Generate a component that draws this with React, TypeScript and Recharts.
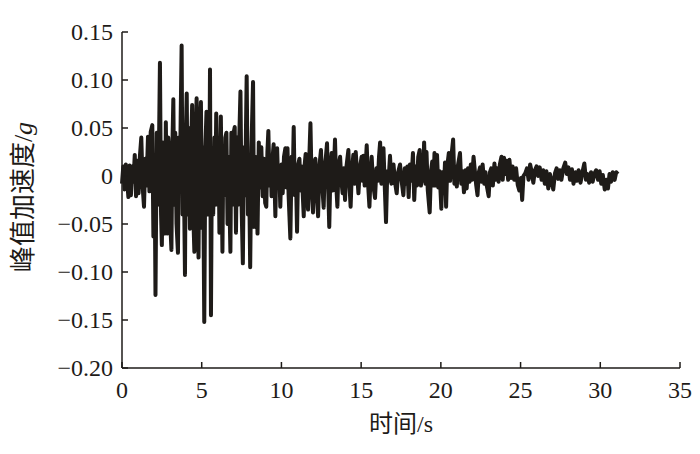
import { CartesianGrid, Line, LineChart, XAxis, YAxis } from "recharts";

// 时间 (s)
const timeS = [
	0.0, 0.08, 0.16, 0.24, 0.32, 0.4, 0.48, 0.56, 0.64, 0.72, 0.8, 0.88, 0.96, 1.04, 1.12, 1.21, 1.3, 1.38, 1.46, 1.54,
	1.63, 1.72, 1.8, 1.9, 1.97, 2.04, 2.1, 2.18, 2.26, 2.32, 2.38, 2.45, 2.5, 2.57, 2.64, 2.7, 2.75, 2.8, 2.85, 2.9,
	2.97, 3.03, 3.1, 3.16, 3.22, 3.28, 3.34, 3.42, 3.51, 3.57, 3.63, 3.68, 3.74, 3.8, 3.86, 3.95, 4.0, 4.06, 4.12, 4.18,
	4.26, 4.32, 4.4, 4.47, 4.54, 4.6, 4.68, 4.74, 4.8, 4.86, 4.95, 5.02, 5.08, 5.16, 5.23, 5.3, 5.36, 5.42, 5.47, 5.52,
	5.58, 5.64, 5.72, 5.8, 5.85, 5.91, 6.0, 6.06, 6.11, 6.2, 6.3, 6.36, 6.42, 6.48, 6.55, 6.62, 6.68, 6.74, 6.8, 6.86,
	6.93, 6.98, 7.07, 7.15, 7.22, 7.28, 7.34, 7.43, 7.5, 7.58, 7.65, 7.72, 7.82, 7.9, 7.96, 8.04, 8.12, 8.22, 8.28, 8.36,
	8.42, 8.5, 8.58, 8.66, 8.74, 8.82, 8.9, 8.98, 9.05, 9.12, 9.18, 9.26, 9.33, 9.38, 9.45, 9.51, 9.57, 9.62, 9.68, 9.73,
	9.8, 9.86, 9.93, 10.0, 10.08, 10.16, 10.25, 10.32, 10.38, 10.45, 10.56, 10.64, 10.7, 10.77, 10.84, 10.9, 10.98, 11.05, 11.13, 11.2,
	11.27, 11.34, 11.4, 11.46, 11.52, 11.6, 11.67, 11.74, 11.82, 11.9, 11.98, 12.05, 12.13, 12.2, 12.3, 12.38, 12.48, 12.56, 12.65, 12.72,
	12.79, 12.86, 12.93, 13.0, 13.08, 13.15, 13.22, 13.3, 13.36, 13.44, 13.51, 13.58, 13.68, 13.76, 13.84, 13.91, 13.99, 14.08, 14.2, 14.27,
	14.34, 14.42, 14.51, 14.58, 14.66, 14.74, 14.83, 14.92, 15.03, 15.08, 15.14, 15.22, 15.28, 15.35, 15.44, 15.52, 15.6, 15.66, 15.75, 15.87,
	15.96, 16.05, 16.12, 16.19, 16.27, 16.33, 16.4, 16.48, 16.56, 16.64, 16.72, 16.81, 16.9, 16.96, 17.03, 17.12, 17.23, 17.32, 17.44, 17.53,
	17.65, 17.74, 17.82, 17.9, 17.98, 18.06, 18.15, 18.25, 18.33, 18.42, 18.5, 18.58, 18.67, 18.75, 18.82, 18.88, 18.95, 19.03, 19.1, 19.18,
	19.3, 19.38, 19.46, 19.54, 19.6, 19.68, 19.76, 19.84, 19.92, 20.03, 20.1, 20.18, 20.26, 20.33, 20.4, 20.5, 20.58, 20.66, 20.77, 20.85,
	20.93, 21.0, 21.08, 21.2, 21.28, 21.36, 21.45, 21.54, 21.62, 21.7, 21.8, 21.88, 21.96, 22.05, 22.14, 22.22, 22.3, 22.38, 22.46, 22.54,
	22.62, 22.72, 22.8, 22.88, 23.0, 23.08, 23.16, 23.26, 23.36, 23.44, 23.52, 23.62, 23.7, 23.8, 23.88, 23.96, 24.04, 24.12, 24.22, 24.3,
	24.4, 24.5, 24.6, 24.72, 24.82, 24.92, 25.02, 25.1, 25.18, 25.3, 25.4, 25.5, 25.6, 25.7, 25.8, 25.9, 26.0, 26.1, 26.2, 26.32,
	26.42, 26.52, 26.62, 26.74, 26.84, 26.96, 27.05, 27.16, 27.26, 27.36, 27.46, 27.56, 27.68, 27.8, 27.9, 28.0, 28.1, 28.22, 28.32, 28.44,
	28.54, 28.64, 28.76, 28.88, 29.0, 29.1, 29.2, 29.3, 29.42, 29.52, 29.64, 29.74, 29.86, 29.96, 30.06, 30.16, 30.28, 30.38, 30.48, 30.58,
	30.68, 30.78, 30.9, 31.0, 31.1,
];

// 峰值加速度 (g)
const accelG = [
	-0.008, 0.01, -0.014, 0.012, -0.004, -0.022, 0.011, -0.02, 0.01, -0.006, 0.022, -0.021, 0.016, -0.018, 0.02, 0.04, -0.012, -0.032, 0.018, -0.01,
	0.041, -0.016, 0.046, 0.053, -0.063, 0.02, -0.124, 0.045, -0.03, 0.03, 0.118, -0.04, -0.072, 0.035, -0.035, -0.06, 0.056, -0.02, -0.06, 0.04,
	0.02, -0.05, -0.077, 0.03, 0.08, -0.03, 0.045, -0.05, -0.08, 0.04, -0.01, 0.06, 0.136, -0.04, 0.03, -0.103, 0.04, 0.086, -0.04, 0.05,
	-0.055, 0.02, 0.074, -0.04, -0.079, 0.03, 0.081, -0.03, -0.085, 0.04, 0.077, -0.054, 0.03, -0.152, 0.03, 0.067, -0.04, 0.05, -0.02, 0.111,
	-0.145, 0.02, -0.04, 0.04, -0.03, 0.065, -0.03, 0.03, -0.059, 0.062, -0.079, 0.03, -0.02, 0.04, 0.045, -0.05, 0.02, -0.03, -0.079, 0.045,
	-0.03, 0.043, 0.051, -0.059, 0.04, -0.03, 0.03, 0.088, -0.03, -0.091, 0.03, -0.02, 0.104, -0.04, 0.02, -0.095, 0.03, 0.098, -0.053, 0.02,
	0.01, -0.06, 0.035, -0.012, 0.03, -0.021, 0.018, -0.028, -0.032, 0.025, 0.047, -0.01, 0.015, -0.021, 0.02, 0.033, -0.01, -0.042, 0.015, 0.029,
	-0.01, 0.01, -0.032, 0.012, -0.018, 0.02, 0.029, -0.012, 0.029, -0.02, -0.065, 0.02, -0.01, 0.051, -0.02, 0.01, -0.058, 0.012, 0.018, -0.015,
	0.01, -0.02, -0.042, 0.012, 0.023, -0.015, -0.035, 0.015, 0.055, -0.012, -0.038, 0.012, 0.018, -0.015, -0.042, 0.01, 0.027, -0.01, -0.033, 0.01,
	0.02, 0.034, -0.01, -0.053, 0.01, 0.024, -0.015, 0.01, 0.038, -0.01, -0.032, 0.01, 0.02, -0.005, -0.018, 0.008, -0.025, 0.01, 0.027, -0.01,
	-0.032, 0.005, 0.022, -0.008, 0.025, 0.005, -0.018, 0.008, 0.02, -0.005, 0.021, -0.01, 0.01, 0.032, -0.01, -0.032, 0.005, 0.02, -0.008, -0.023,
	0.008, -0.005, 0.02, 0.035, -0.008, 0.01, 0.029, -0.01, -0.048, 0.005, -0.005, 0.021, -0.008, 0.004, 0.012, -0.006, -0.018, 0.004, 0.012, -0.004,
	-0.02, 0.008, -0.008, 0.01, -0.022, 0.012, -0.005, 0.024, -0.025, 0.01, -0.01, 0.02, 0.027, -0.01, 0.015, -0.005, 0.035, -0.008, 0.025, -0.015,
	-0.038, 0.005, 0.015, -0.01, 0.024, -0.01, 0.022, -0.012, 0.005, -0.034, 0.004, -0.018, 0.014, -0.032, 0.01, 0.024, -0.005, 0.02, 0.038, -0.008,
	0.01, -0.011, 0.012, 0.024, -0.008, 0.005, -0.017, 0.006, -0.013, 0.008, -0.006, 0.012, -0.004, 0.02, 0.004, -0.01, -0.02, 0.004, 0.009, -0.006,
	0.012, -0.008, 0.004, -0.01, -0.021, 0.004, 0.008, -0.01, 0.013, -0.004, 0.008, -0.006, 0.012, 0.02, -0.004, 0.019, 0.002, 0.016, -0.004, 0.017,
	-0.002, 0.01, -0.004, 0.008, -0.009, -0.015, -0.002, -0.025, 0.0, 0.003, 0.008, -0.004, 0.012, 0.004, -0.007, 0.006, 0.01, 0.0, 0.009, -0.004,
	0.006, -0.008, 0.005, -0.013, 0.002, -0.006, -0.014, 0.003, 0.008, -0.003, 0.006, -0.004, 0.008, 0.014, 0.002, 0.009, -0.004, 0.007, -0.008, 0.004,
	-0.005, 0.006, -0.007, 0.004, 0.013, -0.004, 0.002, -0.007, 0.004, -0.006, 0.003, 0.006, -0.004, 0.005, -0.008, 0.001, -0.014, -0.004, -0.013, 0.002,
	-0.006, 0.004, -0.004, 0.004, 0.002,
];

const xTicks = [0, 5, 10, 15, 20, 25, 30, 35];
const yTicks = [0.15, 0.1, 0.05, 0, -0.05, -0.1, -0.15, -0.2];

const data = timeS.map((t, i) => ({ t, a: accelG[i] }));

const SERIF = '"Liberation Serif", "DejaVu Serif", serif';
const CJK = '"Noto Sans CJK SC", sans-serif';
const INK = "#1e1b18";

function fmtY(v: number) {
	if (v === 0) return "0";
	const s = Math.abs(v).toFixed(2);
	return v < 0 ? `\u2212${s}` : s;
}

// 刻度线朝内
function YTick(props: any) {
	const { x, y, payload } = props;
	const axisX = x + 9;
	return (
		<g>
			<line x1={axisX} y1={y} x2={axisX + 6} y2={y} stroke={INK} strokeWidth={1.5} />
			<text x={x} y={y} dy="0.34em" textAnchor="end" style={{ fontFamily: SERIF, fontSize: 24 }} fill={INK}>
				{fmtY(payload.value)}
			</text>
		</g>
	);
}

function XTick(props: any) {
	const { x, y, payload } = props;
	const axisY = y - 14;
	return (
		<g>
			<line x1={x} y1={axisY} x2={x} y2={axisY - 6} stroke={INK} strokeWidth={1.5} />
			<text x={x} y={y + 16} textAnchor="middle" style={{ fontFamily: SERIF, fontSize: 24 }} fill={INK}>
				{payload.value}
			</text>
		</g>
	);
}

export default function App() {
	return (
		<div style={{ position: "absolute", left: 0, top: 0, width: 700, height: 454, background: "#fff" }}>
			<LineChart width={700} height={454} data={data} margin={{ top: 32, right: 20, bottom: 26, left: 0 }}>
				<CartesianGrid stroke="none" />
				<XAxis
					dataKey="t"
					type="number"
					domain={[0, 35]}
					ticks={xTicks}
					interval={0}
					height={60}
					tickSize={0}
					tickMargin={14}
					tickLine={false}
					axisLine={{ stroke: INK, strokeWidth: 1.5 }}
					tick={<XTick />}
				/>
				<YAxis
					type="number"
					domain={[-0.2, 0.15]}
					ticks={yTicks}
					interval={0}
					width={122}
					tickSize={0}
					tickMargin={9}
					tickLine={false}
					axisLine={{ stroke: INK, strokeWidth: 1.5 }}
					tick={<YTick />}
				/>
				<Line
					type="linear"
					dataKey="a"
					stroke={INK}
					strokeWidth={4}
					dot={false}
					isAnimationActive={false}
					strokeLinejoin="round"
				/>
			</LineChart>
			<svg width={700} height={454} style={{ position: "absolute", left: 0, top: 0, pointerEvents: "none" }}>
				<text
					transform="translate(32,197) rotate(-90)"
					textAnchor="middle"
					style={{ fontFamily: CJK, fontSize: 26 }}
					fill={INK}
				>
					峰值加速度<tspan style={{ fontFamily: SERIF }}>/</tspan>
					<tspan style={{ fontFamily: SERIF, fontStyle: "italic" }}>g</tspan>
				</text>
				<text x={401} y={432} textAnchor="middle" style={{ fontFamily: CJK, fontSize: 24 }} fill={INK}>
					时间<tspan style={{ fontFamily: SERIF }}>/s</tspan>
				</text>
			</svg>
		</div>
	);
}
